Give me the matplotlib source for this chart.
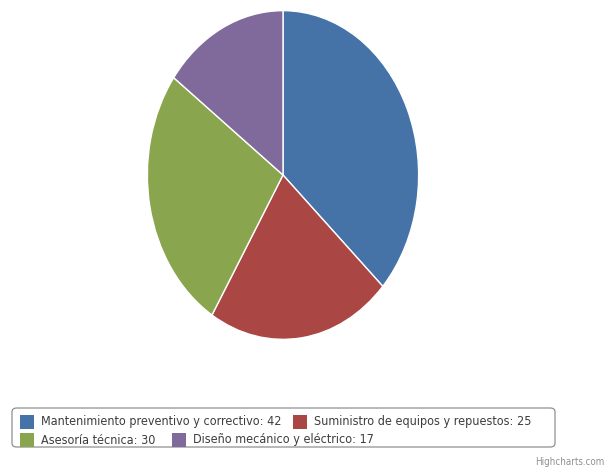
import matplotlib.pyplot as plt
from matplotlib.patches import FancyBboxPatch, Rectangle

services = ["Mantenimiento preventivo y correctivo", "Suministro de equipos y repuestos",
            "Asesoría técnica", "Diseño mecánico y eléctrico"]
counts = [42, 25, 30, 17]
colors = ["#4572A7", "#AA4643", "#89A54E", "#80699B"]

W, H = 607, 470
fig = plt.figure(figsize=(W / 100, H / 100), dpi=100)

# pie area in pixels (left, top, width, height) - stretched to an ellipse
px, py, pw, ph = 146, 9, 274, 332
ax = fig.add_axes([px / W, 1 - (py + ph) / H, pw / W, ph / H])
ax.pie(counts, colors=colors, startangle=90, counterclock=False,
       wedgeprops=dict(edgecolor="white", linewidth=1))
ax.set_aspect("auto")
ax.set_xlim(-1.01, 1.01)
ax.set_ylim(-1.01, 1.01)

# legend box
box = FancyBboxPatch((12 / W, 1 - 447 / H), 543 / W, 39 / H,
                     boxstyle="round,pad=0,rounding_size=0.008",
                     transform=fig.transFigure, facecolor="white",
                     edgecolor="#909090", linewidth=0.9)
fig.add_artist(box)

# legend items: symbol x position and row centre (pixels)
item_x = [20, 293, 20, 172]
item_y = [422, 422, 440, 440]
sq = 14
for name, n, c, x, y in zip(services, counts, colors, item_x, item_y):
    fig.add_artist(Rectangle((x / W, 1 - (y + sq / 2) / H), sq / W, sq / H,
                             transform=fig.transFigure, facecolor=c, edgecolor="none"))
    fig.text((x + sq + 7) / W, 1 - y / H, f"{name}: {n}", fontsize=9.0,
             color="#3d3d3d", family="DejaVu Sans", fontstretch="condensed",
             va="center")

fig.text(604 / W, 1 - 462 / H, "Highcharts.com", fontsize=7, color="#909090",
         ha="right", va="center", family="DejaVu Sans", fontstretch="condensed")

fig.savefig("out.png", dpi=100)
